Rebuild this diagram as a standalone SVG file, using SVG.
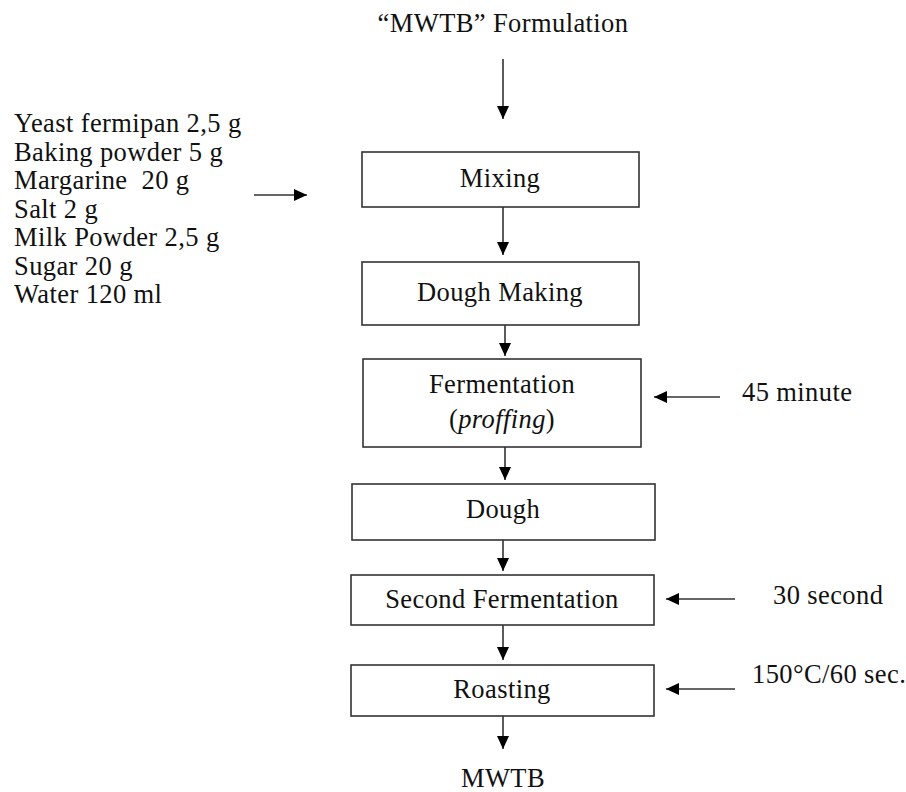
<svg xmlns="http://www.w3.org/2000/svg" width="906" height="792" viewBox="0 0 906 792">
<defs>
<marker id="ah" viewBox="0 0 13 12" refX="13" refY="6" markerWidth="13" markerHeight="12" markerUnits="userSpaceOnUse" orient="auto">
<path d="M0,0 L13,6 L0,12 Z" fill="#000"/>
</marker>
<style>
text{font-family:"Liberation Serif","Times New Roman",serif;font-size:26.5px;letter-spacing:0.4px;fill:#111}
.c{text-anchor:middle}
.box{fill:#fff;stroke:#333;stroke-width:1.6}
.ln{stroke:#333;stroke-width:1.6;fill:none;marker-end:url(#ah)}
</style>
</defs>
<rect x="0" y="0" width="906" height="792" fill="#fff"/>
<g id="title"><text class="c" x="503" y="32">“MWTB” Formulation</text></g>
<g id="ingredients">
<text x="14" y="132">Yeast fermipan 2,5 g</text>
<text x="14" y="160.5">Baking powder 5 g</text>
<text x="14" y="189">Margarine&#160; 20 g</text>
<text x="14" y="217.5">Salt 2 g</text>
<text x="14" y="246">Milk Powder 2,5 g</text>
<text x="14" y="274.5">Sugar 20 g</text>
<text x="14" y="303">Water 120 ml</text>
</g>
<g id="mixing"><rect class="box" x="362" y="152" width="277" height="55"/><text class="c" x="500" y="187">Mixing</text></g>
<g id="doughmaking"><rect class="box" x="362" y="262" width="277" height="63"/><text class="c" x="500" y="301">Dough Making</text></g>
<g id="fermentation"><rect class="box" x="363" y="359" width="278" height="88"/><text class="c" x="502" y="393">Fermentation</text><text class="c" x="502" y="428">(<tspan font-style="italic">proffing</tspan>)</text></g>
<g id="t45"><text x="742" y="401">45 minute</text></g>
<g id="dough"><rect class="box" x="352" y="484" width="303" height="56"/><text class="c" x="503" y="518">Dough</text></g>
<g id="second"><rect class="box" x="351" y="575" width="303" height="50"/><text class="c" x="502" y="608">Second Fermentation</text></g>
<g id="t30"><text x="773" y="604">30 second</text></g>
<g id="roasting"><rect class="box" x="351" y="665" width="303" height="51"/><text class="c" x="502" y="698">Roasting</text></g>
<g id="t150"><text x="752" y="683">150°C/60 sec.</text></g>
<g id="product"><text class="c" x="503" y="787">MWTB</text></g>
<g id="connectors">
<line class="ln" x1="503" y1="59" x2="503" y2="119"/>
<line class="ln" x1="254" y1="195" x2="307" y2="195"/>
<line class="ln" x1="503" y1="207" x2="503" y2="255"/>
<line class="ln" x1="505" y1="325" x2="505" y2="356"/>
<line class="ln" x1="720" y1="397" x2="654" y2="397"/>
<line class="ln" x1="505" y1="447" x2="505" y2="480"/>
<line class="ln" x1="503" y1="540" x2="503" y2="571"/>
<line class="ln" x1="735" y1="599" x2="666" y2="599"/>
<line class="ln" x1="503" y1="625" x2="503" y2="660"/>
<line class="ln" x1="735" y1="689" x2="666" y2="689"/>
<line class="ln" x1="503" y1="716" x2="503" y2="749"/>
</g>
</svg>
